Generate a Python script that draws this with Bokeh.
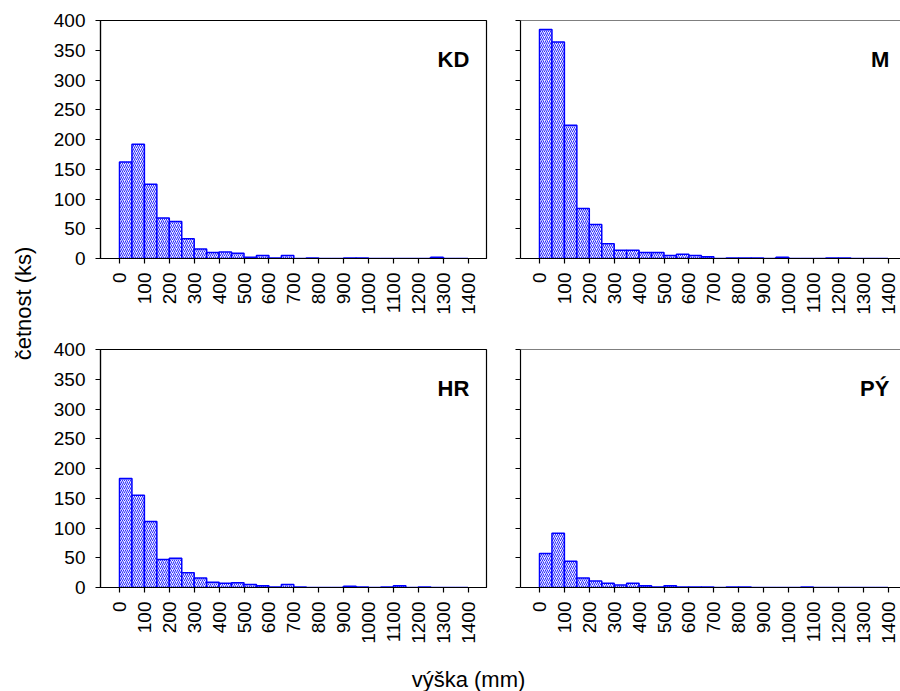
from math import pi
from bokeh.plotting import figure
from bokeh.models import Range1d, FixedTicker, Label, Span
from bokeh.layouts import row, column
from bokeh.embed import file_html
from bokeh.resources import INLINE

# ---- data ----
bin_left = list(range(0, 1400, 50))
bin_right = [b + 50 for b in bin_left]
x_ticks = list(range(0, 1500, 100))
y_ticks = list(range(0, 450, 50))

panel_names = ["KD", "M", "HR", "PÝ"]
kd = [162, 192, 125, 68, 62, 33, 16, 10, 11, 9, 2, 5, 1, 5, 0, 1, 0, 0, 1, 1, 0, 0, 0, 0, 0, 2, 0, 0]
m = [385, 364, 224, 84, 57, 25, 14, 14, 10, 10, 5, 7, 5, 3, 0, 1, 1, 1, 0, 2, 0, 0, 0, 1, 1, 0, 0, 0]
hr = [183, 155, 111, 47, 49, 25, 16, 9, 7, 8, 5, 3, 1, 5, 1, 0, 0, 0, 2, 1, 0, 1, 3, 0, 1, 0, 0, 0]
py = [57, 91, 44, 16, 11, 7, 4, 7, 3, 1, 3, 1, 1, 1, 0, 1, 1, 0, 0, 0, 0, 1, 0, 0, 0, 0, 0, 0]

y_label = "četnost (ks)"
x_label = "výška (mm)"

FONT = "Liberation Sans"
TICK_SIZE = "19px"


def panel(counts, name, left_side, top_row):
    frame_w = 386 if left_side else 380
    k = 0.249
    x0 = -19 / k
    x1 = (frame_w - 19) / k
    mbl = 52 if left_side else 20
    mbr = 14 if left_side else 0
    mbt = 20 if top_row else 12
    mbb = 79 if top_row else 75
    p = figure(width=mbl + frame_w + mbr, height=mbt + 238 + mbb,
               x_range=Range1d(x0, x1), y_range=Range1d(0, 400),
               min_border_left=mbl, min_border_right=mbr,
               min_border_top=mbt, min_border_bottom=mbb,
               output_backend="svg", toolbar_location=None)
    p.quad(left=bin_left, right=bin_right, bottom=0, top=counts,
           fill_color="#eeeeff", line_color="#0000ff", line_width=1.5,
           hatch_pattern="/", hatch_color="#2a2aff", hatch_scale=4,
           hatch_weight=1)
    p.grid.visible = False
    p.background_fill_color = "white"
    p.border_fill_color = "white"
    if left_side:
        p.outline_line_color = "black"
        p.outline_line_width = 1.2
    else:
        p.outline_line_color = None
        p.add_layout(Span(location=400, dimension="width",
                          line_color="black", line_width=1.2))
    for ax in (p.xaxis[0], p.yaxis[0]):
        ax.axis_line_color = "black"
        ax.axis_line_width = 1.2
        ax.major_tick_line_color = "black"
        ax.major_tick_line_width = 1.2
        ax.major_tick_in = 0
        ax.major_tick_out = 5
        ax.minor_tick_line_color = None
        ax.major_label_text_font = FONT
        ax.major_label_text_font_size = TICK_SIZE
        ax.major_label_text_color = "black"
    p.xaxis.ticker = FixedTicker(ticks=x_ticks)
    p.xaxis.major_label_orientation = pi / 2
    p.xaxis.major_label_standoff = 9
    p.yaxis.ticker = FixedTicker(ticks=y_ticks)
    p.yaxis.major_label_standoff = 10
    if not left_side:
        p.yaxis.major_label_overrides = {t: "" for t in y_ticks}
        p.yaxis.major_label_text_font_size = "0px"
    p.add_layout(Label(x=1405, y=334, text=name, text_align="right",
                       text_baseline="alphabetic", text_font=FONT,
                       text_font_style="bold", text_font_size="22px",
                       text_color="black"))
    return p


tl = panel(kd, panel_names[0], True, True)
tr = panel(m, panel_names[1], False, True)
bl = panel(hr, panel_names[2], True, False)
br = panel(py, panel_names[3], False, False)

grid_h = tl.height + bl.height
ylab = figure(width=48, height=grid_h, x_range=Range1d(0, 48),
              y_range=Range1d(0, grid_h), min_border=0,
              x_axis_location=None, y_axis_location=None,
              output_backend="svg", toolbar_location=None)
ylab.grid.visible = False
ylab.outline_line_color = None
ylab.add_layout(Label(x=23, y=grid_h - 303, text=y_label, angle=pi / 2,
                      text_align="center", text_baseline="middle",
                      text_font=FONT, text_font_size="22px",
                      text_color="black"))

total_w = ylab.width + tl.width + tr.width
xlab_h = 691 - grid_h
xlab = figure(width=total_w, height=xlab_h, x_range=Range1d(0, total_w),
              y_range=Range1d(0, xlab_h), min_border=0,
              x_axis_location=None, y_axis_location=None,
              output_backend="svg", toolbar_location=None)
xlab.grid.visible = False
xlab.outline_line_color = None
xlab.add_layout(Label(x=468, y=12, text=x_label, text_align="center",
                      text_baseline="alphabetic", text_font=FONT,
                      text_font_size="22px", text_color="black"))

layout = column(row(ylab, column(row(tl, tr), row(bl, br))), xlab)
open("out.html", "w").write(file_html(layout, INLINE))
